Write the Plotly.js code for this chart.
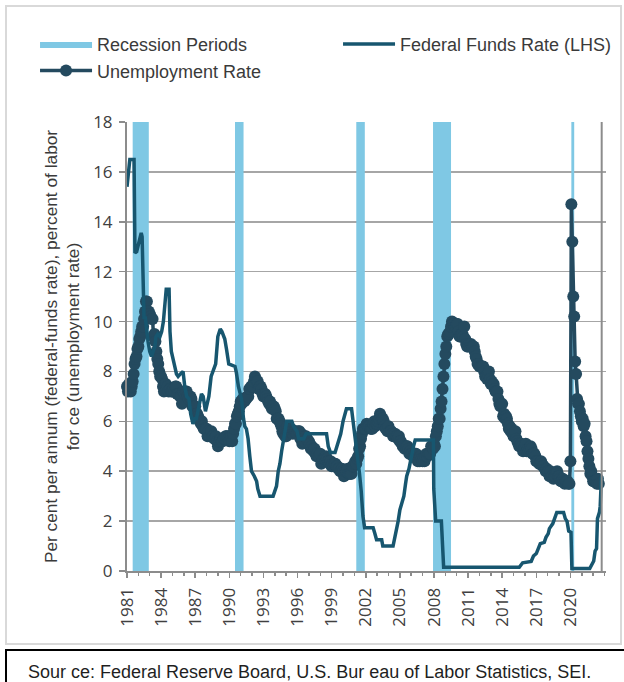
<!DOCTYPE html>
<html>
<head>
<meta charset="utf-8">
<script src="https://cdn.plot.ly/plotly-3.0.1.min.js"></script>
<style>
  html, body { margin: 0; padding: 0; background: #ffffff; }
  #chart { width: 624px; height: 682px; }
</style>
</head>
<body>
<div id="chart"></div>
<script>
// ---------------- DATA ----------------
// Recession periods (first month, last month)
const recessionStart = ['1981-07', '1990-07', '2001-03', '2007-12', '2020-02'];
const recessionEnd   = ['1982-11', '1991-03', '2001-11', '2009-06', '2020-04'];

// Unemployment rate, monthly, as plotted from the first plotted month
const unempStart = '1980-11';
const unempRate = [
  7.5, 7.4, 7.4, 7.2, 7.5, 7.5, 7.2, 7.4, 7.6, 7.9, 8.3, 8.5,
  8.6, 8.9, 9.0, 9.3, 9.4, 9.6, 9.8, 9.8, 10.1, 10.4, 10.8, 10.8,
  10.4, 10.4, 10.3, 10.2, 10.1, 10.1, 9.4, 9.5, 9.2, 8.8, 8.5, 8.3,
  8.0, 7.8, 7.8, 7.7, 7.4, 7.2, 7.5, 7.5, 7.3, 7.4, 7.2, 7.3,
  7.3, 7.2, 7.2, 7.3, 7.2, 7.4, 7.4, 7.1, 7.1, 7.1, 7.0, 7.0,
  6.7, 7.2, 7.2, 7.1, 7.2, 7.2, 7.0, 6.9, 7.0, 7.0, 6.9, 6.6,
  6.6, 6.6, 6.6, 6.3, 6.3, 6.2, 6.1, 6.0, 5.9, 6.0, 5.8, 5.7,
  5.7, 5.7, 5.7, 5.4, 5.6, 5.4, 5.4, 5.6, 5.4, 5.4, 5.3, 5.3,
  5.4, 5.2, 5.0, 5.2, 5.2, 5.3, 5.2, 5.2, 5.3, 5.3, 5.4, 5.4,
  5.4, 5.3, 5.2, 5.4, 5.4, 5.2, 5.5, 5.7, 5.9, 5.9, 6.2, 6.3,
  6.4, 6.6, 6.8, 6.7, 6.9, 6.9, 6.8, 6.9, 6.9, 7.0, 7.0, 7.3,
  7.3, 7.4, 7.4, 7.4, 7.6, 7.8, 7.7, 7.6, 7.6, 7.3, 7.4, 7.4,
  7.3, 7.1, 7.0, 7.1, 7.1, 7.0, 6.9, 6.8, 6.7, 6.8, 6.6, 6.5,
  6.6, 6.6, 6.5, 6.4, 6.1, 6.1, 6.1, 6.0, 5.9, 5.8, 5.6, 5.5,
  5.6, 5.4, 5.4, 5.8, 5.6, 5.6, 5.7, 5.7, 5.6, 5.5, 5.6, 5.6,
  5.6, 5.5, 5.5, 5.6, 5.6, 5.3, 5.5, 5.1, 5.2, 5.2, 5.4, 5.4,
  5.3, 5.2, 5.2, 5.1, 4.9, 5.0, 4.9, 4.8, 4.9, 4.7, 4.6, 4.7,
  4.6, 4.6, 4.7, 4.3, 4.4, 4.5, 4.5, 4.5, 4.6, 4.5, 4.4, 4.4,
  4.3, 4.4, 4.2, 4.3, 4.2, 4.3, 4.3, 4.2, 4.2, 4.1, 4.1, 4.0,
  4.0, 4.1, 4.0, 3.8, 4.0, 4.0, 4.0, 4.1, 3.9, 3.9, 3.9, 3.9,
  4.2, 4.2, 4.3, 4.4, 4.3, 4.5, 4.6, 4.9, 5.0, 5.3, 5.5, 5.7,
  5.7, 5.7, 5.7, 5.9, 5.8, 5.8, 5.8, 5.7, 5.7, 5.7, 5.9, 6.0,
  5.8, 5.9, 5.9, 6.0, 6.1, 6.3, 6.2, 6.1, 6.1, 6.0, 5.8, 5.7,
  5.7, 5.6, 5.8, 5.6, 5.6, 5.6, 5.5, 5.4, 5.4, 5.5, 5.4, 5.4,
  5.3, 5.4, 5.2, 5.2, 5.1, 5.0, 5.0, 4.9, 5.0, 5.0, 5.0, 4.9,
  4.7, 4.8, 4.7, 4.7, 4.6, 4.6, 4.7, 4.7, 4.5, 4.4, 4.5, 4.4,
  4.6, 4.5, 4.4, 4.5, 4.4, 4.6, 4.7, 4.6, 4.7, 4.7, 4.7, 5.0,
  5.0, 4.9, 5.1, 5.0, 5.4, 5.6, 5.8, 6.1, 6.1, 6.5, 6.8, 7.3,
  7.8, 8.3, 8.7, 9.0, 9.4, 9.5, 9.5, 9.6, 9.8, 10.0, 9.9, 9.9,
  9.8, 9.8, 9.9, 9.9, 9.6, 9.4, 9.4, 9.5, 9.5, 9.4, 9.8, 9.3,
  9.1, 9.0, 9.0, 9.1, 9.0, 9.1, 9.0, 9.0, 9.0, 8.8, 8.6, 8.5,
  8.3, 8.3, 8.2, 8.2, 8.2, 8.2, 8.2, 8.0, 7.8, 7.8, 7.7, 7.9,
  8.0, 7.7, 7.5, 7.6, 7.5, 7.5, 7.3, 7.2, 7.2, 7.2, 6.9, 6.7,
  6.6, 6.7, 6.7, 6.2, 6.3, 6.1, 6.2, 6.1, 5.9, 5.7, 5.8, 5.6,
  5.7, 5.5, 5.4, 5.4, 5.6, 5.3, 5.2, 5.1, 5.0, 5.0, 5.1, 5.0,
  4.8, 4.9, 5.0, 5.1, 4.8, 4.9, 4.8, 4.9, 5.0, 4.9, 4.7, 4.7,
  4.7, 4.6, 4.4, 4.4, 4.4, 4.3, 4.3, 4.4, 4.3, 4.2, 4.2, 4.1,
  4.0, 4.1, 4.0, 4.0, 3.8, 4.0, 3.8, 3.8, 3.7, 3.8, 3.8, 3.9,
  4.0, 3.8, 3.8, 3.7, 3.6, 3.6, 3.7, 3.6, 3.5, 3.6, 3.6, 3.6,
  3.5, 3.5, 4.4, 14.7, 13.2, 11.0, 10.2, 8.4, 7.9, 6.9, 6.7, 6.7,
  6.4, 6.2, 6.0, 6.1, 5.8, 5.9, 5.4, 5.2, 4.8, 4.5, 4.2, 3.9,
  4.0, 3.8, 3.6, 3.6, 3.6, 3.6, 3.5, 3.7, 3.5
];

// Federal funds rate, read at its turning points (decimal year, percent)
const fedDate = [
  1981.00, 1981.08, 1981.25, 1981.62, 1981.70, 1981.85, 1981.97, 1982.10, 1982.25, 1982.33,
  1982.40, 1982.50, 1982.60, 1982.70, 1982.85, 1983.00, 1983.15, 1983.30, 1983.45, 1983.55,
  1983.70, 1983.90, 1984.05, 1984.20, 1984.30, 1984.45, 1984.70, 1984.78, 1984.90, 1985.05,
  1985.20, 1985.35, 1985.50, 1985.70, 1985.93, 1986.08, 1986.25, 1986.45, 1986.60, 1986.80,
  1986.95, 1987.10, 1987.30, 1987.45, 1987.55, 1987.70, 1987.80, 1987.90, 1988.00, 1988.20,
  1988.40, 1988.60, 1988.80, 1988.99, 1989.20, 1989.35, 1989.60, 1989.75, 1989.95, 1990.50,
  1990.62, 1990.80, 1991.07, 1991.25, 1991.36, 1991.50, 1991.65, 1991.80, 1991.95, 1992.20,
  1992.40, 1992.50, 1992.70, 1993.85, 1994.15, 1994.30, 1994.45, 1994.60, 1994.75, 1994.90,
  1995.05, 1995.50, 1995.65, 1995.95, 1996.10, 1996.55, 1996.75, 1998.55, 1998.70, 1998.90,
  1999.30, 1999.45, 1999.80, 2000.00, 2000.30, 2000.75, 2000.90, 2001.00, 2001.30, 2001.45,
  2001.60, 2001.75, 2001.90, 2002.65, 2002.80, 2002.95, 2003.40, 2003.50, 2004.40, 2004.56,
  2004.70, 2004.85, 2005.00, 2005.20, 2005.35, 2005.50, 2005.60, 2005.80, 2005.90, 2006.20,
  2006.35, 2007.95, 2007.98, 2008.15, 2008.65, 2008.73, 2008.85, 2015.50, 2015.80, 2016.55,
  2016.75, 2017.00, 2017.20, 2017.35, 2017.70, 2017.85, 2018.05, 2018.15, 2018.45, 2018.60,
  2018.80, 2019.40, 2019.55, 2019.70, 2019.85, 2020.05, 2020.13, 2021.70, 2021.95, 2022.05,
  2022.17, 2022.30, 2022.38, 2022.55, 2022.62, 2022.73
];
const fedRate = [
  15.4, 15.9, 16.5, 16.5, 12.75, 12.8, 13.0, 13.2, 13.55, 13.4,
  11.2, 10.1, 10.2, 9.7, 9.2, 8.8, 8.6, 8.8, 9.0, 9.4,
  9.5, 9.4, 9.6, 10.0, 10.5, 11.3, 11.3, 9.6, 8.8, 8.4,
  8.2, 7.9, 7.8, 7.9, 8.0, 7.4, 7.0, 6.9, 6.3, 5.9,
  6.1, 6.1, 6.6, 7.0, 7.1, 7.0, 6.6, 6.4, 6.6, 7.0,
  7.8, 8.1, 8.3, 9.4, 9.7, 9.6, 9.3, 8.9, 8.3, 8.2,
  7.95, 7.4, 6.9, 6.1, 5.8, 5.7, 5.3, 4.6, 4.0, 3.8,
  3.6, 3.3, 3.0, 3.0, 3.4, 4.0, 4.3, 4.8, 5.3, 5.6,
  6.0, 6.0, 5.8, 5.6, 5.3, 5.3, 5.5, 5.5, 5.0, 4.75,
  4.75, 5.0, 5.5, 6.0, 6.5, 6.5, 6.0, 5.5, 4.6, 3.9,
  3.2, 2.2, 1.73, 1.73, 1.5, 1.25, 1.25, 1.0, 1.0, 1.33,
  1.66, 2.0, 2.45, 2.85, 3.0, 3.5, 3.8, 4.1, 4.35, 5.0,
  5.25, 5.25, 3.3, 2.0, 2.0, 1.0, 0.15, 0.15, 0.33, 0.38,
  0.6, 0.7, 0.95, 1.1, 1.15, 1.35, 1.5, 1.7, 1.9, 2.15,
  2.35, 2.35, 2.1, 2.0, 1.6, 1.55, 0.1, 0.1, 0.3, 0.4,
  0.8, 0.9, 2.1, 2.35, 2.6, 3.8
];

const yAxisMax = 18;
const xTickFirst = 1981;
const xTickLast = 2020;
const xTickStep = 3;

// ---------------- HELPERS ----------------
function ymStart(s) { const p = s.split('-'); return +p[0] + (+p[1] - 1) / 12; }
function ymEnd(s)   { const p = s.split('-'); return +p[0] + (+p[1]) / 12; }

const recX = [], recY = [];
recessionStart.forEach(function (s, i) {
  const a = ymStart(s), b = ymEnd(recessionEnd[i]);
  recX.push(a, a, b, b, null);
  recY.push(0, yAxisMax, yAxisMax, 0, null);
});
const u0 = ymStart(unempStart);
const unempX = unempRate.map(function (_, i) { return u0 + i / 12; });

const xTickVals = [];
for (let t = xTickFirst; t <= xTickLast; t += xTickStep) xTickVals.push(t);

const textFont = 'Liberation Sans, Arial, Helvetica, sans-serif';
const tickFont = 'Open Sans, Liberation Sans, Arial, sans-serif';
const recColor = '#7fc8e4';
const unColor = '#244a5f';
const fedColor = '#17566f';
const axisGray = '#8c8c8c';

const traces = [
  {
    type: 'scatter', mode: 'lines', name: 'Recession Periods',
    x: recX, y: recY, fill: 'toself', fillcolor: recColor,
    line: { width: 0, color: recColor }, legendrank: 1, hoverinfo: 'skip'
  },
  {
    type: 'scatter', mode: 'lines+markers', name: 'Unemployment Rate',
    x: unempX, y: unempRate,
    line: { color: unColor, width: 3.5 },
    marker: { color: unColor, size: 12 },
    legendrank: 3, cliponaxis: false
  },
  {
    type: 'scatter', mode: 'lines', name: 'Federal Funds Rate (LHS)',
    x: fedDate, y: fedRate,
    line: { color: fedColor, width: 3.5 },
    legendrank: 2
  }
];

const layout = {
  width: 624, height: 682,
  margin: { l: 127, r: 18, t: 122, b: 111, pad: 0, autoexpand: false },
  paper_bgcolor: '#ffffff', plot_bgcolor: '#ffffff',
  font: { family: textFont, size: 18, color: '#3a3a3a' },
  showlegend: true,
  legend: {
    orientation: 'h', x: -0.192, xanchor: 'left', y: 1.214, yanchor: 'top',
    itemwidth: 52, entrywidth: 236, entrywidthmode: 'pixels',
    font: { family: textFont, size: 18, color: '#3a3a3a' },
    bgcolor: 'rgba(0,0,0,0)', traceorder: 'normal'
  },
  xaxis: {
    type: 'linear', range: [1981, 2023.13], autorange: false,
    tickmode: 'array', tickvals: xTickVals, tickformat: 'd',
    ticks: 'outside', ticklen: 5, tickwidth: 1.5, tickcolor: axisGray,
    showline: true, linecolor: axisGray, linewidth: 2,
    showgrid: false, zeroline: false, tickangle: -90,
    ticklabelstandoff: 3,
    tickfont: { family: tickFont, size: 17, color: '#404040' },
    minor: { tick0: xTickFirst, dtick: 1, ticks: 'outside', ticklen: 3, tickwidth: 1.5, tickcolor: axisGray, showgrid: false }
  },
  yaxis: {
    range: [0, yAxisMax], autorange: false, tick0: 0, dtick: 2,
    ticks: 'outside', ticklen: 6, tickwidth: 1.5, tickcolor: axisGray,
    showline: true, linecolor: axisGray, linewidth: 2,
    showgrid: true, gridcolor: '#a6a6a6', gridwidth: 1.5, zeroline: false,
    ticklabelstandoff: 3,
    tickfont: { family: tickFont, size: 17, color: '#404040' },
    title: {
      text: 'Per cent per annum (federal-funds rate), percent of labor<br>for ce (unemployment rate)',
      font: { family: textFont, size: 17.3, color: '#3a3a3a' }, standoff: 9
    }
  },
  shapes: [
    { type: 'line', xref: 'paper', yref: 'paper', x0: 0.991, x1: 0.991, y0: 0, y1: 1,
      line: { color: axisGray, width: 2 } },
    { type: 'rect', xref: 'paper', yref: 'paper', x0: -0.2526, x1: 1.0313, y0: -0.1626, y1: 1.2584,
      line: { color: '#d9d9d9', width: 2 }, fillcolor: 'rgba(0,0,0,0)', layer: 'below' },
    { type: 'rect', xref: 'paper', yref: 'paper', x0: -0.2526, x1: 1.06, y0: -0.27, y1: -0.176,
      line: { color: '#000000', width: 2 }, fillcolor: 'rgba(0,0,0,0)' }
  ],
  annotations: [
    { text: 'Unemployment Rate Spikes During Recessions', xref: 'paper', yref: 'paper',
      x: -0.2276, y: 1.2665, xanchor: 'left', yanchor: 'bottom', showarrow: false,
      font: { family: textFont, size: 20.5, color: '#000000', weight: 'bold' } },
    { text: 'Sour ce: Federal Reserve Board, U.S. Bur eau of Labor Statistics, SEI.', xref: 'paper', yref: 'paper',
      x: -0.2110, y: -0.224, xanchor: 'left', yanchor: 'middle', showarrow: false,
      font: { family: textFont, size: 18, color: '#1f1f1f' } }
  ]
};

Plotly.newPlot('chart', traces, layout, { staticPlot: true, displayModeBar: false });
</script>
</body>
</html>
